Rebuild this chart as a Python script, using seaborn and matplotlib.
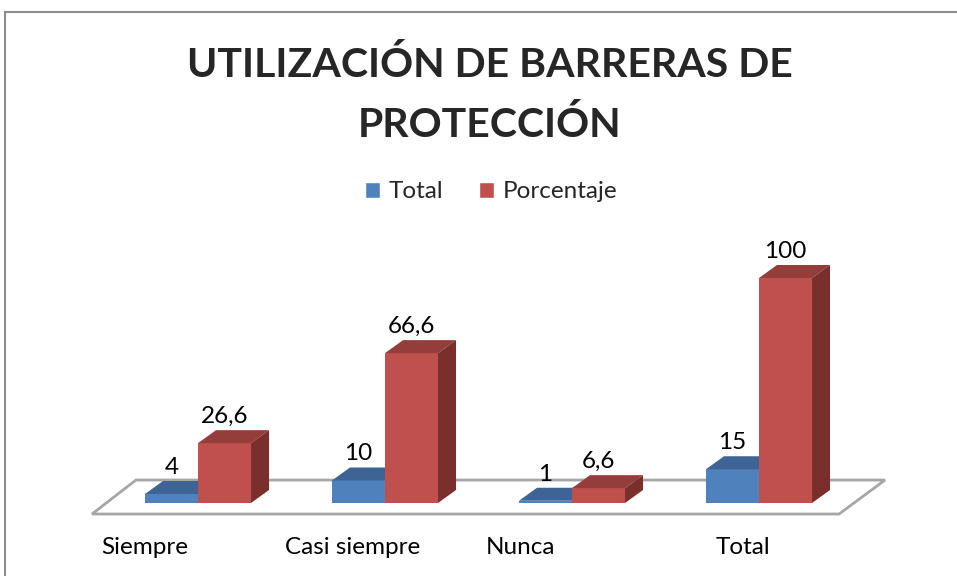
import numpy as np
import pandas as pd
import matplotlib
matplotlib.use("Agg")
import matplotlib.pyplot as plt
import seaborn as sns
from matplotlib.patches import Polygon, Rectangle

categories = ["Siempre", "Casi siempre", "Nunca", "Total"]
total = [4, 10, 1, 15]
porcentaje = [26.6, 66.6, 6.6, 100]
series = ["Total", "Porcentaje"]

title_lines = ["UTILIZACIÓN DE BARRERAS DE", "PROTECCIÓN"]

df = pd.DataFrame({
    "cat": categories * 2,
    "val": total + porcentaje,
    "serie": [series[0]] * 4 + [series[1]] * 4,
})

BLUE, RED = "#4F81BD", "#C0504D"
BLUE_TOP, RED_TOP = "#3D6494", "#943D3A"
BLUE_SIDE, RED_SIDE = "#345680", "#7A2F2D"

sns.set_theme(style="white")
plt.rcParams["font.family"] = ["Lato", "DejaVu Sans"]

W, H = 957, 576
fig = plt.figure(figsize=(W / 100, H / 100), dpi=100)
ax = fig.add_axes([60 / W, (H - 530) / H, 860 / W, 300 / H])

sns.barplot(data=df, x="cat", y="val", hue="serie", palette=[BLUE, RED],
            width=0.567, saturation=1, ax=ax, legend=True, order=categories)

ax.set_xlim(-138 / 187, 3 + 161 / 187)
ax.set_ylim(-12, 121.33)
ax.axis("off")

fig.canvas.draw()
DX, DY = 18, 13
inv = ax.transData.inverted()

tops = [BLUE_TOP, RED_TOP]
sides = [BLUE_SIDE, RED_SIDE]
for k, cont in enumerate(ax.containers):
    for p in cont.patches:
        p.set_zorder(3 + 2 * k)
        p.set_edgecolor("none")
        x0, y0 = p.get_x(), p.get_y()
        x1, y1 = x0 + p.get_width(), y0 + p.get_height()
        d = ax.transData.transform([(x0, y0), (x1, y0), (x1, y1), (x0, y1)])
        bl, br, tr, tl = d
        top = np.array([tl, tr, tr + (DX, DY), tl + (DX, DY)])
        side = np.array([br, tr, tr + (DX, DY), br + (DX, DY)])
        ax.add_patch(Polygon(inv.transform(top), closed=True, fc=tops[k], ec="none", zorder=3 + 2 * k))
        ax.add_patch(Polygon(inv.transform(side), closed=True, fc=sides[k], ec="none", zorder=3 + 2 * k))
        v = p.get_height()
        lab = f"{v:g}".replace(".", ",")
        pos = ax.transData.transform(((x0 + x1) / 2, y1)) + (0, 20)
        ax.text(*inv.transform(pos), lab, ha="center", va="baseline", fontsize=17.5,
                color="black", zorder=10)

# floor
floor_front_y = -4.9
floor_back_y = 10.2
floor = [(-0.567, floor_front_y), (3.428, floor_front_y), (3.674, floor_back_y), (-0.332, floor_back_y)]
ax.add_patch(Polygon(floor, closed=True, fc="white", ec="#A6A6A6", lw=2, zorder=1))

# category labels
offs = [-0.283, -0.171, -0.278, -0.086]
for i, c in enumerate(categories):
    ax.text(i + offs[i], -19.6, c, ha="center", va="center", fontsize=17.5,
            color="black", clip_on=False)

# legend
handles, labels = ax.get_legend_handles_labels()
ax.legend(handles, labels, loc="center", bbox_to_anchor=(491 / W, 1 - 192 / H),
          bbox_transform=fig.transFigure, ncol=2, frameon=False, fontsize=17.5,
          handlelength=0.6, handleheight=0.6, handletextpad=0.35, columnspacing=1.5)

fig.text(490 / W, 1 - 77 / H, title_lines[0], ha="center", va="baseline", fontsize=29.5,
         fontweight="bold")
fig.text(490 / W, 1 - 137 / H, title_lines[1], ha="center", va="baseline", fontsize=29.5,
         fontweight="bold")

# outer frame
fig.patches.append(Rectangle((5 / W, -0.1), 1.2, 1 - 12 / H + 0.1, transform=fig.transFigure,
                             fill=False, ec="#8C8C8C", lw=1.5, figure=fig))

fig.savefig("out.png", dpi=100)
